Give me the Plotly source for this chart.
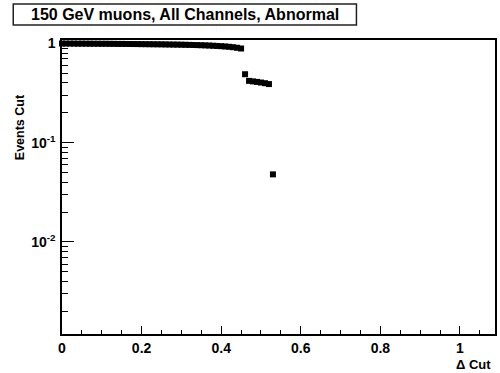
import plotly.graph_objects as go

# Cut value (Delta Cut) scanned in steps of 0.01
delta_cut = [
    0.00, 0.01, 0.02, 0.03, 0.04, 0.05, 0.06, 0.07, 0.08, 0.09,
    0.10, 0.11, 0.12, 0.13, 0.14, 0.15, 0.16, 0.17, 0.18, 0.19,
    0.20, 0.21, 0.22, 0.23, 0.24, 0.25, 0.26, 0.27, 0.28, 0.29,
    0.30, 0.31, 0.32, 0.33, 0.34, 0.35, 0.36, 0.37, 0.38, 0.39,
    0.40, 0.41, 0.42, 0.43, 0.44, 0.45, 0.46, 0.47, 0.48, 0.49,
    0.50, 0.51, 0.52, 0.53,
]

# Fraction of events cut at each Delta Cut value
events_cut = [
    0.998, 0.998, 0.997, 0.997, 0.996, 0.996, 0.995, 0.995, 0.994, 0.994,
    0.993, 0.993, 0.992, 0.991, 0.990, 0.990, 0.989, 0.988, 0.987, 0.986,
    0.985, 0.984, 0.983, 0.982, 0.981, 0.980, 0.978, 0.977, 0.975, 0.974,
    0.972, 0.970, 0.968, 0.966, 0.963, 0.960, 0.957, 0.953, 0.949, 0.944,
    0.939, 0.933, 0.926, 0.917, 0.905, 0.890, 0.490, 0.420, 0.415, 0.410,
    0.404, 0.398, 0.390, 0.048,
]

title_text = "150 GeV muons, All Channels, Abnormal"
x_title = "\u0394 Cut"
y_title = "Events Cut"

x_major = [0, 0.2, 0.4, 0.6, 0.8, 1.0]
x_major_text = ["0", "0.2", "0.4", "0.6", "0.8", "1"]
y_major = [0.01, 0.1, 1]
y_major_text = ["10<sup>-2</sup>", "10<sup>-1</sup>", "1"]
y_minor = [m * d for d in (0.001, 0.01, 0.1) for m in range(2, 10)]

FONT = "Liberation Sans, Arial, Helvetica, sans-serif"

fig = go.Figure()
fig.add_trace(go.Scatter(
    x=delta_cut, y=events_cut, mode="markers",
    marker=dict(symbol="square", size=6, color="black", line=dict(width=0)),
    cliponaxis=False, showlegend=False,
))

fig.update_layout(
    width=500, height=373,
    margin=dict(l=62, r=3, t=40, b=39),
    paper_bgcolor="white", plot_bgcolor="white",
    font=dict(family=FONT, color="black", size=14),
)

fig.update_xaxes(
    range=[0, 1.088], showgrid=False, zeroline=False,
    showline=True, linecolor="black", linewidth=1.5, mirror=True,
    tickmode="array", tickvals=x_major, ticktext=x_major_text,
    ticks="inside", ticklen=8, tickwidth=1.2, tickcolor="black",
    tickfont=dict(family=FONT, size=14, color="black", weight="bold"),
    minor=dict(ticks="inside", ticklen=4, tickwidth=1.2, tickcolor="black",
               dtick=0.05, tick0=0, showgrid=False),
)

fig.update_yaxes(
    type="log", range=[-2.927, 0.035], showgrid=False, zeroline=False,
    showline=True, linecolor="black", linewidth=1.5, mirror=True,
    tickmode="array", tickvals=y_major, ticktext=y_major_text,
    ticks="inside", ticklen=12, tickwidth=1.2, tickcolor="black",
    ticklabelstandoff=2,
    tickfont=dict(family=FONT, size=14, color="black", weight="bold"),
    minor=dict(ticks="inside", ticklen=6, tickwidth=1.2, tickcolor="black",
               tickmode="array", tickvals=y_minor, showgrid=False),
)

# Title pave
fig.add_shape(type="rect", xref="paper", yref="paper",
              x0=-0.1126, x1=0.68, y0=1.051, y1=1.1224,
              line=dict(color="#222222", width=1.5), fillcolor="white")
fig.add_annotation(xref="paper", yref="paper", x=(-0.1126 + 0.68) / 2, y=1.0867,
                   text=title_text, showarrow=False,
                   xanchor="center", yanchor="middle",
                   font=dict(family=FONT, size=16, color="black", weight="bold"))

# Axis titles
fig.add_annotation(xref="paper", yref="paper", x=-0.0966, y=0.704,
                   text=y_title, showarrow=False, textangle=-90,
                   xanchor="center", yanchor="middle",
                   font=dict(family=FONT, size=12.5, color="black", weight="bold"))
fig.add_annotation(xref="paper", yref="paper", x=0.9954, y=-0.105,
                   text=x_title, showarrow=False,
                   xanchor="right", yanchor="middle",
                   font=dict(family=FONT, size=13, color="black", weight="bold"))

fig.write_html("out.html")
